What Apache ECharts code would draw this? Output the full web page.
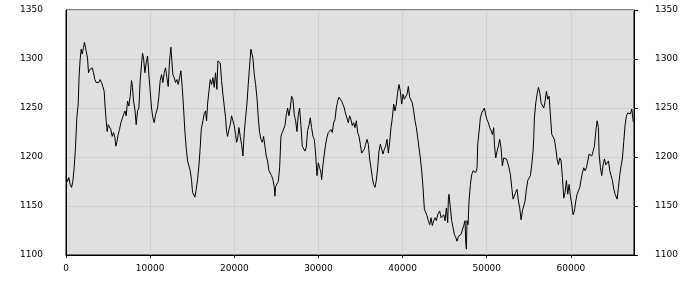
<!DOCTYPE html>
<html>
<head>
<meta charset="utf-8">
<script src="https://cdn.jsdelivr.net/npm/echarts@6/dist/echarts.min.js"></script>
<style>html,body{margin:0;padding:0;background:#fff;}#c{width:700px;height:300px;}</style>
</head>
<body>
<div id="c"></div>
<script>
const xTicks = [0, 10000, 20000, 30000, 40000, 50000, 60000];
const yTicks = [1100, 1150, 1200, 1250, 1300, 1350];

const xVals = [
0,179,337,496,654,813,971,1130,1288,1447,1566,1685,1803,1922,2081,2200,2319,2398,2556,2675,2794,2953,3111,3270,3428,3587,3745,3904,4062,4221,4379,4538,4657,4776,4895,5013,5172,5330,5489,5648,5806,5925,6044,6202,6361,6519,6678,6836,6995,7153,7312,7470,7629,7788,7906,8025,8184,8342,8501,8659,8818,8976,9095,9214,9373,9531,9690,9848,10007,10165,10324,10482,10641,
10879,11038,11196,11355,11513,11672,11830,11989,12147,12306,12464,12583,12702,12861,13019,13178,13336,13495,13653,13812,13970,14129,14287,14446,14604,14763,14921,15040,15159,15318,15476,15635,15793,15952,16071,16269,16427,16586,16705,16824,16982,17141,17299,17458,17616,17775,17933,18052,18211,18329,18488,18646,18805,18964,19082,19201,19360,19518,19677,19835,19994,20152,20271,20390,20549,20707,20866,21024,21183,21341,21500,21658,21817,21975,
22056,22215,22373,22532,22690,22849,23007,23166,23324,23483,23641,23800,23958,24117,24275,24434,24592,24751,24830,24909,25068,25226,25385,25543,25702,25860,26019,26178,26336,26495,26653,26812,26970,27129,27287,27446,27604,27763,27921,28080,28238,28397,28555,28714,28872,29031,29189,29348,29506,29665,29823,29982,30141,30299,30378,30537,30695,30854,31012,31171,31329,31488,31646,31805,31963,32122,32281,32439,32598,32756,32915,33073,
33233,33392,33550,33709,33867,34026,34184,34343,34501,34660,34818,34977,35135,35294,35452,35611,35769,35928,36086,36245,36403,36562,36720,36879,37037,37196,37355,37513,37672,37830,37989,38147,38306,38464,38623,38781,38940,39098,39257,39415,39574,39732,39891,40049,40208,40366,40525,40683,40842,41000,41159,41318,41476,41635,41793,41952,42110,42269,42427,42586,42744,42903,43061,43220,43378,43537,43695,43854,44012,44171,44329,
44409,44568,44726,44885,45043,45202,45360,45439,45519,45677,45836,45994,46153,46311,46470,46628,46787,46945,47104,47262,47421,47500,47579,47659,47778,47896,48055,48213,48372,48531,48689,48848,48927,49085,49244,49402,49561,49719,49878,50036,50195,50354,50512,50671,50829,50908,51067,51225,51384,51542,51701,51859,52018,52176,52335,52494,52652,52811,52969,53128,53286,53445,53603,53762,53920,54079,54237,54396,54554,54713,54871,55030,55188,55347,55505,
55586,55665,55824,55982,56141,56299,56458,56616,56775,56933,57092,57250,57409,57568,57726,57885,58043,58202,58360,58519,58677,58836,58994,59153,59311,59470,59628,59787,59945,60104,60262,60421,60579,60738,60896,61055,61213,61372,61531,61689,61848,62006,62165,62323,62482,62640,62799,62957,63116,63274,63353,63512,63671,63829,63988,64146,64305,64463,64622,64780,64939,65097,65256,65414,65494,65652,65811,65969,66128,66286,66445,66603,66762,66920,67079,67237,67396,67475
];

const yVals = [
1181,1175,1179,1172,1169,1175,1189,1210,1240,1254,1284,1300,1310,1305,1312,1317,1315,1308,1301,1286,1289,1288,1291,1286,1279,1276,1274,1276,1279,1276,1272,1267,1250,1237,1226,1233,1235,1228,1221,1225,1220,1211,1215,1223,1228,1235,1233,1243,1247,1242,1257,1252,1262,1278,1271,1257,1249,1233,1247,1250,1278,1295,1306,1301,1286,1296,1303,1284,1267,1250,1240,1235,1243,
1250,1262,1278,1284,1276,1286,1291,1281,1272,1298,1312,1298,1284,1281,1276,1279,1274,1281,1288,1271,1250,1226,1209,1196,1191,1186,1176,1164,1162,1159,1167,1177,1191,1210,1228,1237,1244,1247,1237,1254,1267,1279,1274,1281,1271,1286,1269,1298,1300,1296,1278,1264,1252,1240,1226,1221,1228,1233,1242,1237,1232,1223,1215,1218,1230,1221,1213,1201,1225,1240,1254,1274,1293,1310,
1311,1301,1284,1274,1261,1240,1225,1218,1215,1221,1211,1201,1196,1186,1184,1181,1177,1169,1160,1170,1172,1175,1189,1221,1225,1226,1232,1243,1250,1242,1250,1262,1259,1243,1237,1226,1243,1250,1232,1211,1210,1206,1210,1227,1232,1240,1230,1221,1218,1203,1181,1194,1189,1184,1177,1192,1203,1213,1220,1225,1227,1228,1225,1235,1238,1250,1257,1261,1262,1257,1255,1250,
1244,1245,1235,1242,1238,1232,1235,1230,1237,1225,1221,1213,1204,1206,1208,1213,1218,1213,1198,1189,1179,1172,1169,1176,1189,1206,1213,1211,1203,1208,1211,1218,1204,1215,1230,1240,1254,1247,1254,1266,1274,1267,1254,1264,1259,1257,1264,1272,1261,1262,1255,1247,1237,1230,1220,1209,1199,1186,1169,1147,1145,1140,1135,1131,1138,1130,1135,1138,1135,1141,1143,
1145,1138,1136,1141,1135,1148,1133,1157,1162,1148,1135,1128,1121,1118,1114,1119,1118,1121,1121,1130,1135,1114,1106,1135,1131,1155,1172,1182,1186,1186,1184,1189,1213,1226,1240,1245,1247,1250,1243,1238,1235,1230,1227,1223,1230,1213,1199,1206,1211,1218,1209,1191,1199,1199,1198,1194,1189,1182,1169,1157,1155,1164,1167,1155,1148,1136,1145,1147,1155,1167,1176,1177,1181,1192,1206,
1220,1240,1255,1264,1271,1266,1255,1254,1250,1257,1267,1259,1262,1261,1223,1221,1218,1209,1198,1192,1199,1196,1179,1158,1164,1176,1162,1172,1160,1152,1141,1145,1155,1162,1164,1169,1177,1184,1189,1186,1189,1196,1203,1204,1201,1206,1211,1226,1237,1230,1203,1189,1181,1192,1198,1192,1194,1196,1186,1181,1176,1167,1162,1160,1157,1169,1182,1191,1199,1216,1233,1242,1245,1244,1244,1249,1237,1235
];

const seriesData = xVals.map((x, i) => [x, yVals[i]]);

const chart = echarts.init(document.getElementById('c'), null, {renderer: 'canvas'});
const plainFmt = (v) => String(v);
const labelStyle = {color: '#000', fontFamily: 'DejaVu Sans', fontSize: 9, formatter: plainFmt};
const yAxisBase = (pos) => ({
  type: 'value', position: pos, min: 1100, max: 1350, interval: 50,
  axisLine: {show: true, lineStyle: {color: '#000', width: 1}},
  axisTick: {show: pos === 'right', length: 4, lineStyle: {color: '#000'}},
  axisLabel: Object.assign({margin: pos === 'right' ? 21 : 23, customValues: yTicks}, labelStyle),
  splitLine: {show: pos === 'left', lineStyle: {color: '#cfcfcf', width: 1}}
});
chart.setOption({
  animation: false,
  backgroundColor: '#ffffff',
  grid: {left: 66, right: 66, top: 10, bottom: 45, show: true, backgroundColor: '#e0e0e0', borderColor: '#000', borderWidth: 1},
  xAxis: {
    type: 'value', min: 0, max: 67500,
    axisLine: {show: true, lineStyle: {color: '#000', width: 1}},
    axisTick: {show: true, length: 3, customValues: xTicks, lineStyle: {color: '#000'}},
    axisLabel: Object.assign({margin: 9, customValues: xTicks}, labelStyle),
    splitLine: {show: true, lineStyle: {color: '#cfcfcf', width: 1}}
  },
  yAxis: [yAxisBase('left'), yAxisBase('right')],
  series: [{
    type: 'line', data: seriesData, showSymbol: false, symbol: 'none',
    lineStyle: {color: '#000', width: 1}, yAxisIndex: 0
  }]
});
</script>
</body>
</html>
